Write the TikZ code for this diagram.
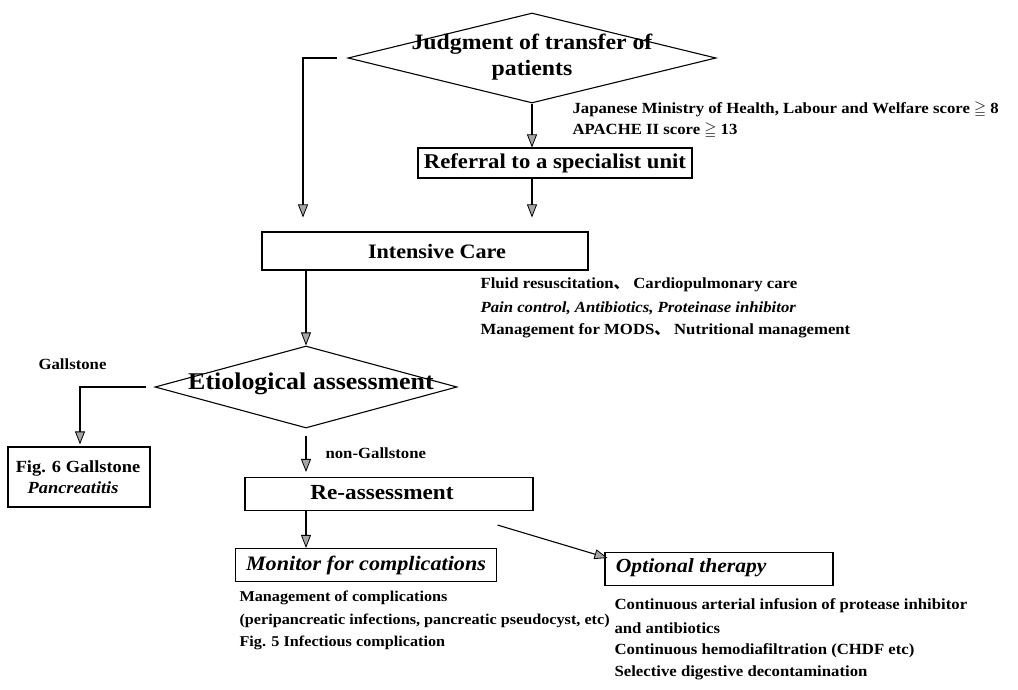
\documentclass[tikz,border=0pt]{standalone}
\usepackage{fontspec}
\usepackage{amssymb}
\setmainfont{Liberation Serif}[FakeStretch=1.08]
\newfontfamily\cjk{Noto Sans CJK JP}
\usetikzlibrary{arrows.meta,shapes.geometric,calc}
\newcommand{\jc}{{\cjk 、}}
\begin{document}
\begin{tikzpicture}[x=1pt,y=-1pt,
  line width=1.1pt,
  arr/.style={-{Triangle[length=13pt,width=10pt,fill=gray!70,line width=0.8pt]}},
  decision/.style={diamond,draw,inner sep=0pt},
  stepbox/.style={draw,rectangle,inner sep=0pt},
  fs/.style={font=\bfseries\fontsize{#1}{\dimexpr#1pt*6/5\relax}\selectfont},
  fsit/.style={font=\bfseries\itshape\fontsize{#1}{\dimexpr#1pt*6/5\relax}\selectfont},
  note/.style={fs=15.5,anchor=west,inner sep=0pt},
  noteit/.style={fsit=15.5,anchor=west,inner sep=0pt}]
\useasboundingbox (0,0) rectangle (1018,690);

% decision: transfer of patients
\node[decision,minimum width=368pt,minimum height=90pt] (top) at (532,58) {};
\node[fs=22,align=center] (toptext) at (532,57) {Judgment of transfer of\\[-1pt]patients};

\node[note] (jp1) at (572,110) {Japanese Ministry of Health, Labour and Welfare score $\geqq$ 8};
\node[note] (jp2) at (572,131) {APACHE II score $\geqq$ 13};

% referral
\node[stepbox,fs=21,minimum width=274pt,minimum height=30pt] (ref) at (555,163) {Referral to a specialist unit};

% intensive care
\node[stepbox,minimum width=326pt,minimum height=38pt] (ic) at (425,251) {};
\node[fs=20.5] (ictext) at (437,251) {Intensive Care};
\node[note] (ic1) at (480,285) {Fluid resuscitation\jc\ Cardiopulmonary care};
\node[noteit] (ic2) at (480,308) {Pain control, Antibiotics, Proteinase inhibitor};
\node[note] (ic3) at (480,331) {Management for MODS\jc\ Nutritional management};

% etiological assessment
\node[decision,minimum width=302pt,minimum height=82pt] (etio) at (306,387) {};
\node[fs=24] (etiotext) at (311,384) {Etiological assessment};

\node[note] (gl) at (38,364) {Gallstone};
\node[stepbox,minimum width=142pt,minimum height=60pt] (fig6) at (79,477) {};
\node[fs=17,align=left] (fig6text) at (78,477) {Fig. 6 Gallstone\\[1pt]\hspace*{0.7em}\textit{Pancreatitis}};

\node[note] (ngl) at (325,453) {non-Gallstone};

% re-assessment
\node[stepbox,minimum width=288pt,minimum height=33pt] (re) at (389,494) {};
\node[fs=21.5] (retext) at (382,493) {Re-assessment};

% monitoring branch
\node[stepbox,fsit=20.5,minimum width=261pt,minimum height=33pt] (mon) at (366,565) {Monitor for complications};
\node[note,fs=15] (mon1) at (239,598) {Management of complications};
\node[note,fs=15] (mon2) at (239,621) {(peripancreatic infections, pancreatic pseudocyst, etc)};
\node[note,fs=15] (mon3) at (239,643) {Fig. 5 Infectious complication};

% optional therapy branch
\node[stepbox,minimum width=228pt,minimum height=33pt] (opt) at (719,569) {};
\node[fsit=20,anchor=west] (opttext) at (612,568) {Optional therapy};
\node[note] (opt1) at (614,606) {Continuous arterial infusion of protease inhibitor};
\node[note] (opt2) at (614,628) {and antibiotics};
\node[note] (opt3) at (614,651) {Continuous hemodiafiltration (CHDF etc)};
\node[note] (opt4) at (614,673) {Selective digestive decontamination};

% connectors
\coordinate (leftx) at (303,0);
\coordinate (galx) at (80,0);
\draw[arr] (top.south) -- (top.south |- ref.north);
\draw[arr,shorten <=10pt,shorten >=14pt] (top.west) -| (ic.north -| leftx);
\draw[arr,shorten >=14pt] (ref.south -| top.south) -- (ic.north -| top.south);
\draw[arr] (ic.south -| etio.north) -- (etio.north);
\draw[arr,shorten <=8pt,shorten >=2pt] (etio.west) -| (fig6.north -| galx);
\draw[arr,shorten <=7pt,shorten >=5pt] (etio.south) -- (etio.south |- re.north);
\draw[arr] (re.south -| etio.south) -- (mon.north -| etio.south);
\draw[arr] ($(re.south east)+(-36,14)$) -- ($(opt.north west)+(3,6)$);
\end{tikzpicture}
\end{document}
